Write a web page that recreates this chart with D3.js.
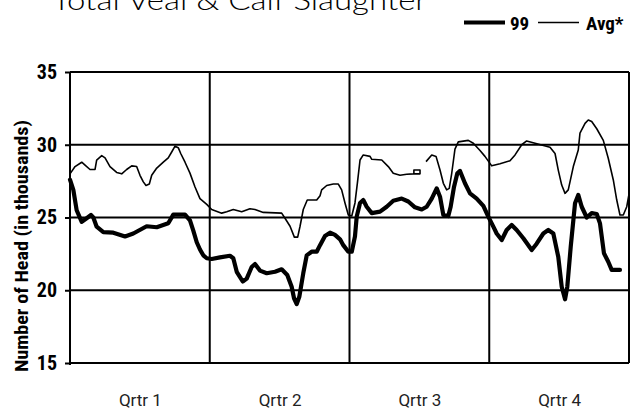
<!DOCTYPE html>
<html>
<head>
<meta charset="utf-8">
<script src="https://cdn.jsdelivr.net/npm/d3@7"></script>
<style>
  html, body { margin: 0; padding: 0; background: #fff; }
  svg { display: block; }
</style>
</head>
<body>
<svg id="chart" width="633" height="411"></svg>
<script>
// ---------------- DATA ----------------
const title = "Total Veal & Calf Slaughter";
const seriesNames = ["99", "Avg*"];
const quarterLabels = ["Qrtr 1", "Qrtr 2", "Qrtr 3", "Qrtr 4"];
const quarterBounds = [0, 13, 26, 39, 52];
const yTicks = [15, 20, 25, 30, 35];
const yTitle = "Number of Head (in thousands)";

// 1999 weekly slaughter (week of year, thousand head)
const weeks99 = [0,0.31,0.62,1.09,1.55,1.95,2.17,2.48,3.10,4.03,5.12,5.89,7.13,8.07,9.14,9.61,10.70,11.16,11.47,11.79,12.09,12.40,12.72,13.18,13.95,14.88,15.19,15.51,16.07,16.44,16.90,17.21,17.67,18.30,19.07,19.69,20.21,20.62,20.84,21.09,21.33,21.70,22.02,22.48,22.95,23.26,23.72,24.19,24.65,25.12,25.42,25.89,26.21,26.51,26.67,26.98,27.28,27.60,28.07,28.84,29.46,30.07,30.86,31.47,32.09,32.72,33.18,33.65,34.11,34.42,34.73,35.19,35.41,35.72,36.03,36.28,36.74,37.21,37.83,38.45,38.91,39.38,39.69,40.16,40.62,41.09,41.55,42.17,42.95,43.41,44.03,44.49,44.96,45.42,45.74,46.05,46.26,46.58,46.98,47.28,47.60,48.07,48.53,49.00,49.30,49.67,50.07,50.39,51.16];
const values99 = [27.6,26.9,25.5,24.7,24.95,25.17,25.0,24.37,24.0,23.96,23.7,23.9,24.4,24.33,24.6,25.2,25.2,24.8,24.1,23.3,22.8,22.4,22.2,22.15,22.26,22.37,22.2,21.27,20.6,20.8,21.6,21.8,21.35,21.17,21.27,21.44,21.05,20.24,19.45,19.05,19.55,21.17,22.4,22.65,22.65,23.1,23.73,23.96,23.8,23.5,23.1,22.65,22.65,23.7,25.06,26.0,26.2,25.74,25.3,25.4,25.74,26.15,26.3,26.1,25.7,25.55,25.74,26.3,27.0,26.43,25.17,25.1,25.74,27.1,28.04,28.2,27.35,26.66,26.3,25.8,25.06,24.37,23.9,23.45,24.14,24.48,24.14,23.57,22.77,23.2,23.9,24.14,23.9,22.3,20.24,19.38,20.24,23.0,25.98,26.55,25.74,25.0,25.3,25.24,24.6,22.54,21.96,21.4,21.4];

// Average (null = gap in the series)
const weeksAvg = [0,0.47,1.09,1.40,1.86,2.33,2.48,2.95,3.26,3.72,4.34,4.81,5.27,5.74,6.20,6.51,6.82,7.07,7.38,7.60,8.07,8.68,9.14,9.46,9.77,10.07,10.30,10.70,11.16,11.63,12.09,12.72,13.18,14.11,14.58,15.19,15.97,16.74,17.21,17.98,19.69,20.00,20.47,20.87,21.18,21.40,21.70,22.07,22.95,23.26,23.41,23.88,24.49,24.96,25.27,25.58,25.89,26.21,26.51,26.73,26.98,27.28,27.91,28.07,29.00,29.61,30.07,30.70,31.32,31.93,32.56,32.56,31.99,31.99,32.8,33.12,33.65,34.05,34.42,34.73,35.04,35.28,35.51,35.81,36.12,37.05,37.52,38.14,38.60,39.23,40.00,40.93,41.40,42.02,42.48,43.26,44.65,45.12,45.42,45.74,46.05,46.35,46.82,47.28,47.44,47.91,48.21,48.53,49.00,49.61,50.07,50.54,50.86,51.16,51.47,51.79,52.0];
const valuesAvg = [28.0,28.5,28.8,28.6,28.3,28.3,28.95,29.25,29.1,28.5,28.1,28.0,28.3,28.55,28.5,27.9,27.45,27.2,27.3,27.9,28.4,28.8,29.1,29.5,29.9,29.8,29.4,28.8,28.05,27.1,26.3,25.9,25.55,25.3,25.4,25.55,25.4,25.6,25.55,25.35,25.3,24.95,24.4,23.65,23.65,24.4,25.55,26.2,26.2,26.5,26.9,27.2,27.3,27.3,26.9,26.0,25.17,25.1,26.0,27.35,28.95,29.3,29.2,29.0,28.95,28.5,28.04,27.9,27.97,28.0,28.0,28.26,28.26,28.0,null,28.84,29.3,29.2,28.26,27.35,26.9,27.0,28.04,29.7,30.2,30.3,30.1,29.6,29.2,28.55,28.7,28.9,29.3,30.0,30.26,30.1,29.83,29.4,28.26,27.23,26.66,26.9,28.5,29.64,30.8,31.47,31.7,31.6,31.1,30.3,29.07,27.58,26.2,25.17,25.17,25.74,26.6];

// ---------------- LAYOUT ----------------
const svg = d3.select("#chart");
const margin = {left: 70, right: 4, top: 72, bottom: 48};
const W = 633, H = 411;
const iw = W - margin.left - margin.right;
const ih = H - margin.top - margin.bottom;

const x = d3.scaleLinear().domain([0, 52]).range([margin.left, margin.left + iw]);
const y = d3.scaleLinear().domain([15, 35]).range([margin.top + ih, margin.top]);

const narrow = "'Liberation Sans Narrow','Arial Narrow','Roboto Condensed',sans-serif";

// Title
svg.append("text")
  .attr("x", 52).attr("y", 10)
  .attr("font-family", "Lato, 'Liberation Sans', sans-serif")
  .attr("font-weight", 300)
  .attr("font-size", 28)
  .attr("textLength", 375)
  .attr("lengthAdjust", "spacingAndGlyphs")
  .text(title);

// Horizontal gridlines
svg.append("g").selectAll("line").data(yTicks).join("line")
  .attr("x1", margin.left).attr("x2", margin.left + iw)
  .attr("y1", d => y(d)).attr("y2", d => y(d))
  .attr("stroke", "#000").attr("stroke-width", 2);

// Vertical quarter lines
svg.append("g").selectAll("line").data(quarterBounds).join("line")
  .attr("x1", d => x(d)).attr("x2", d => x(d))
  .attr("y1", margin.top).attr("y2", margin.top + ih)
  .attr("stroke", "#000").attr("stroke-width", 2);

// Y axis
const yAxis = svg.append("g")
  .attr("transform", `translate(${margin.left},0)`)
  .call(d3.axisLeft(y).tickValues(yTicks).tickSize(5).tickPadding(8).tickFormat(d3.format("d")));
yAxis.select(".domain").attr("stroke-width", 2).attr("d", `M0,${margin.top}V${margin.top + ih + 2}`);
yAxis.selectAll(".tick line").attr("stroke-width", 2);
yAxis.selectAll(".tick text")
  .attr("font-family", narrow).attr("font-weight", "bold").attr("font-size", 20).attr("fill", "#000");

// X axis labels
const xAxis = svg.append("g")
  .attr("transform", `translate(0,${margin.top + ih})`)
  .call(d3.axisBottom(x).tickValues(quarterBounds.slice(0, 4).map(d => d + 6.5)).tickSize(0).tickPadding(31)
    .tickFormat((d, i) => quarterLabels[i]));
xAxis.select(".domain").remove();
xAxis.selectAll(".tick text")
  .attr("font-family", "Roboto, sans-serif").attr("font-size", 17).attr("fill", "#222");

// Y title
svg.append("text")
  .attr("transform", `translate(28,246) rotate(-90)`)
  .attr("text-anchor", "middle")
  .attr("font-family", narrow).attr("font-weight", "bold").attr("font-size", 19)
  .attr("textLength", 252).attr("lengthAdjust", "spacingAndGlyphs")
  .text(yTitle);

// Lines
const line = d3.line()
  .defined(d => d.v !== null)
  .x(d => x(d.w)).y(d => y(d.v));

const avgData = weeksAvg.map((w, i) => ({w, v: valuesAvg[i]}));
const d99 = weeks99.map((w, i) => ({w, v: values99[i]}));

svg.append("path").datum(avgData)
  .attr("d", line).attr("fill", "none").attr("stroke", "#000").attr("stroke-width", 1.6)
  .attr("stroke-linejoin", "round");
svg.append("path").datum(d99)
  .attr("d", line).attr("fill", "none").attr("stroke", "#000").attr("stroke-width", 4.2)
  .attr("stroke-linejoin", "round").attr("stroke-linecap", "round");

// Legend
const lg = svg.append("g").attr("font-family", narrow).attr("font-weight", "bold").attr("font-size", 19);
lg.append("line").attr("x1", 464).attr("x2", 505).attr("y1", 22.5).attr("y2", 22.5)
  .attr("stroke", "#000").attr("stroke-width", 4);
lg.append("text").attr("x", 510).attr("y", 29.5).text(seriesNames[0]);
lg.append("line").attr("x1", 538).attr("x2", 579).attr("y1", 22.5).attr("y2", 22.5)
  .attr("stroke", "#000").attr("stroke-width", 1.6);
lg.append("text").attr("x", 586).attr("y", 29.5).text(seriesNames[1]);
</script>
</body>
</html>
